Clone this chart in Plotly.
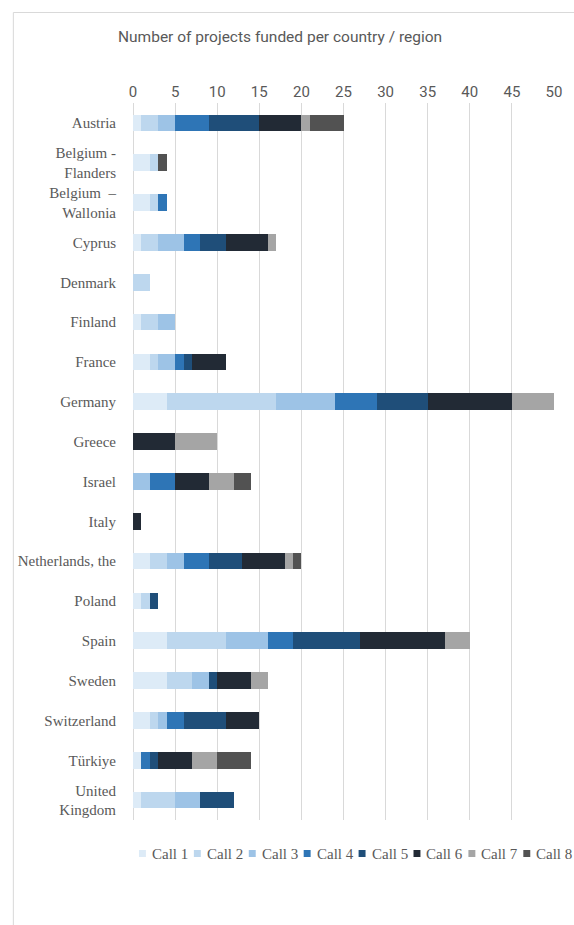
import plotly.graph_objects as go

countries = ["Austria", "Belgium -<br>Flanders", "Belgium \u00a0–<br>Wallonia", "Cyprus", "Denmark",
             "Finland", "France", "Germany", "Greece", "Israel", "Italy", "Netherlands, the",
             "Poland", "Spain", "Sweden", "Switzerland", "Türkiye", "United<br>Kingdom"]

calls = ["Call 1", "Call 2", "Call 3", "Call 4", "Call 5", "Call 6", "Call 7", "Call 8"]
colors = ["#ddebf7", "#bdd7ee", "#9dc3e6", "#2e75b6", "#1f4e79", "#222a35", "#a5a5a5", "#525252"]

call1 = [1, 2, 2, 1, 0, 1, 2, 4, 0, 0, 0, 2, 1, 4, 4, 2, 1, 1]
call2 = [2, 1, 1, 2, 2, 2, 1, 13, 0, 0, 0, 2, 1, 7, 3, 1, 0, 4]
call3 = [2, 0, 0, 3, 0, 2, 2, 7, 0, 2, 0, 2, 0, 5, 2, 1, 0, 3]
call4 = [4, 0, 1, 2, 0, 0, 1, 5, 0, 3, 0, 3, 0, 3, 0, 2, 1, 0]
call5 = [6, 0, 0, 3, 0, 0, 1, 6, 0, 0, 0, 4, 1, 8, 1, 5, 1, 4]
call6 = [5, 0, 0, 5, 0, 0, 4, 10, 5, 4, 1, 5, 0, 10, 4, 4, 4, 0]
call7 = [1, 0, 0, 1, 0, 0, 0, 5, 5, 3, 0, 1, 0, 3, 2, 0, 3, 0]
call8 = [4, 1, 0, 0, 0, 0, 0, 0, 0, 2, 0, 1, 0, 0, 0, 0, 4, 0]
series = [call1, call2, call3, call4, call5, call6, call7, call8]

x_ticks = [0, 5, 10, 15, 20, 25, 30, 35, 40, 45, 50]

W, H = 574, 925
ML, MR, MT, MB = 133, 17, 103, 105
PW, PH = W - ML - MR, H - MT - MB

def px_x(p):
    return (p - ML) / PW

def px_y(p):
    return (H - MB - p) / PH

TEXT = "#595959"
GRID = "#d9d9d9"
SERIF = "Liberation Serif, Times New Roman, serif"
NARROW = "Roboto, Liberation Sans, Arial, sans-serif"

fig = go.Figure()
for name, vals, col in zip(calls, series, colors):
    fig.add_trace(go.Bar(y=countries, x=vals, name=name, orientation="h",
                         marker=dict(color=col, line=dict(width=0)), showlegend=False))

fig.update_layout(
    barmode="stack", bargap=0.58,
    width=W, height=H,
    margin=dict(l=ML, r=MR, t=MT, b=MB),
    paper_bgcolor="white", plot_bgcolor="white",
    xaxis=dict(range=[0, 50], tickvals=x_ticks, side="top", showgrid=True, gridcolor=GRID,
               gridwidth=1, zeroline=True, zerolinecolor=GRID, zerolinewidth=1,
               showline=False, ticks="", fixedrange=True, ticklabelstandoff=2,
               tickfont=dict(family=NARROW, size=15, color=TEXT)),
    yaxis=dict(autorange="reversed", showgrid=False, zeroline=False, showline=False, ticks="",
               ticklabelstandoff=16,
               tickfont=dict(family=SERIF, size=15, color=TEXT)),
    showlegend=False,
)

# title
fig.add_annotation(text="Number of projects funded per country / region", xref="paper", yref="paper",
                   x=px_x(281), y=px_y(37), xanchor="center", yanchor="middle", showarrow=False,
                   font=dict(family=NARROW, size=15.5, color=TEXT))

# chart frame
fig.add_shape(type="rect", xref="paper", yref="paper", x0=px_x(12.5), y0=px_y(960), x1=px_x(620), y1=px_y(12.5),
              line=dict(color=GRID, width=1), fillcolor="rgba(0,0,0,0)", layer="below")

# legend (manual, to keep the compact one-row Excel layout)
for i, (name, col) in enumerate(zip(calls, colors)):
    x0 = 139 + i * 55.3
    fig.add_shape(type="rect", xref="paper", yref="paper", x0=px_x(x0), x1=px_x(x0 + 7),
                  y0=px_y(857), y1=px_y(850), fillcolor=col, line=dict(width=0))
    fig.add_annotation(text=name, xref="paper", yref="paper", x=px_x(x0 + 11), y=px_y(853.5),
                       xanchor="left", yanchor="middle", showarrow=False,
                       font=dict(family=SERIF, size=15, color=TEXT))

fig.write_html("out.html")
